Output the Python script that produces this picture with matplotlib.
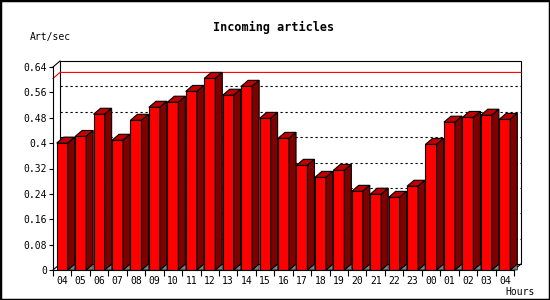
import matplotlib.pyplot as plt
from matplotlib.patches import Polygon, Rectangle
import numpy as np

# hours of the day and incoming article rate (art/sec)
hours = ['04', '05', '06', '07', '08', '09', '10', '11', '12', '13', '14', '15', '16',
         '17', '18', '19', '20', '21', '22', '23', '00', '01', '02', '03', '04']
rate = [0.400, 0.421, 0.491, 0.409, 0.472, 0.513, 0.529, 0.563, 0.604, 0.551, 0.579, 0.478, 0.415,
        0.330, 0.292, 0.314, 0.248, 0.239, 0.229, 0.264, 0.396, 0.466, 0.481, 0.488, 0.475]
yticks = [0, 0.08, 0.16, 0.24, 0.32, 0.4, 0.48, 0.56, 0.64]
ytick_labels = ['0', '0.08', '0.16', '0.24', '0.32', '0.4', '0.48', '0.56', '0.64']

plt.rcParams['font.family'] = 'DejaVu Sans Mono'

W, H = 550, 300
fig = plt.figure(figsize=(5.5, 3), dpi=100)
ax = fig.add_axes([53 / W, 30 / H, 461 / W, 203 / H])
n = len(hours)
ymax = 0.64
ax.set_xlim(0, n)
ax.set_ylim(0, ymax)

# 3d depth, 7px right and 6px up, in data units
dx = 7 * n / 461
dy = 6 * ymax / 203

# back wall
ax.add_patch(Rectangle((dx, dy), n, ymax, fc='white', ec='black', lw=0.8, clip_on=False, zorder=0.5))
ax.plot([0, dx], [ymax, ymax + dy], color='black', lw=0.8, clip_on=False, zorder=0.6)
ax.plot([0, dx], [0, dy], color='black', lw=0.8, clip_on=False, zorder=0.6)
ax.plot([n, n + dx], [0, dy], color='black', lw=0.8, clip_on=False, zorder=0.6)

for v in yticks[1:-1]:
    ax.plot([dx, n + dx], [v + dy, v + dy], color='black', lw=0.8, ls=(0, (2, 2.5)),
            clip_on=False, zorder=1)

# max line
mx = max(rate)
ax.plot([0, dx, n + dx], [mx, mx + dy, mx + dy], color='red', lw=0.8, clip_on=False, zorder=1.5)

# bars
x = np.arange(n) + 0.5
bw = 0.6
ax.bar(x, rate, width=bw, color='#ff0000', edgecolor='black', linewidth=0.8, zorder=3)
for xc, v in zip(x, rate):
    x0 = xc - bw / 2
    x1 = xc + bw / 2
    top = [(x0, v), (x1, v), (x1 + dx, v + dy), (x0 + dx, v + dy)]
    side = [(x1, 0), (x1, v), (x1 + dx, v + dy), (x1 + dx, dy)]
    floor = [(x1, 0), (x1 + dx, dy), (x1 + dx, 0)]
    ax.add_patch(Polygon(top, closed=True, fc='#c00000', ec='black', lw=0.8, zorder=3, clip_on=False))
    ax.add_patch(Polygon(side, closed=True, fc='#800000', ec='black', lw=0.8, zorder=3, clip_on=False))
    ax.add_patch(Polygon(floor, closed=True, fc='#808080', ec='black', lw=0.5, zorder=2.9, clip_on=False))

for s in ['top', 'right']:
    ax.spines[s].set_visible(False)
for s in ['left', 'bottom']:
    ax.spines[s].set_linewidth(0.8)
    ax.spines[s].set_zorder(4)
ax.patch.set_alpha(0)

ax.set_yticks(yticks, ytick_labels)
ax.tick_params(axis='y', length=3, width=0.8, pad=1.5, labelsize=7)
ax.set_xticks(range(n + 1))
ax.set_xticklabels([])
ax.set_xticks(x, minor=True)
ax.set_xticklabels(hours, minor=True)
ax.tick_params(axis='x', which='major', length=4, width=0.8)
ax.tick_params(axis='x', which='minor', length=0, pad=4, labelsize=7)

fig.text(274 / W, 1 - 27 / H, 'Incoming articles', ha='center', va='center', fontsize=8.5, fontweight='bold')
fig.text(30 / W, 1 - 37 / H, 'Art/sec', ha='left', va='center', fontsize=7)
fig.text(505 / W, 1 - 292 / H, 'Hours', ha='left', va='center', fontsize=7)

fig.add_artist(Rectangle((0, 0), 1, 1, transform=fig.transFigure, fill=False, ec='black', lw=2.5))

fig.savefig('out.png', dpi=100)
